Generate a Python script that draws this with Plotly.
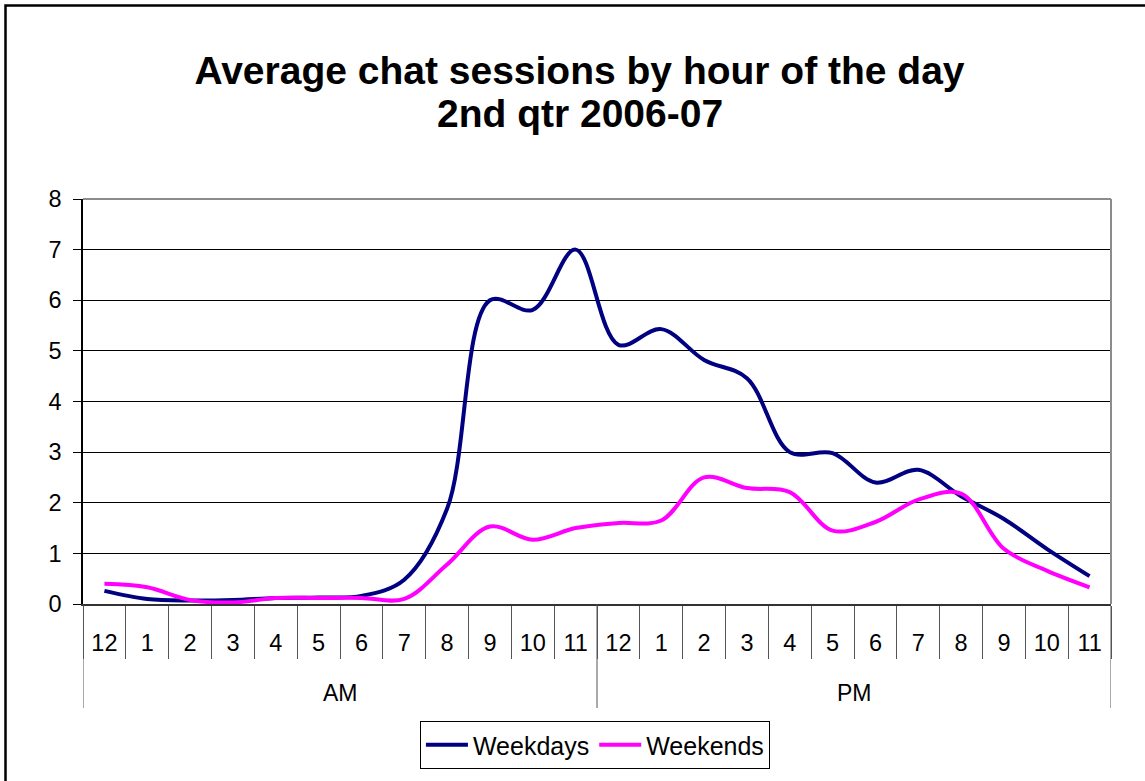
import plotly.graph_objects as go

# ---- data ----
periods = ["AM", "PM"]
hours = ["12", "1", "2", "3", "4", "5", "6", "7", "8", "9", "10", "11"]
weekdays = [0.26, 0.10, 0.07, 0.08, 0.12, 0.13, 0.16, 0.48, 1.88, 6.0, 5.81, 7.0,
            5.12, 5.43, 4.82, 4.46, 3.0, 2.98, 2.40, 2.65, 2.13, 1.68, 1.09, 0.55]
weekends = [0.40, 0.33, 0.08, 0.03, 0.12, 0.12, 0.12, 0.10, 0.78, 1.53, 1.27, 1.50,
            1.60, 1.65, 2.50, 2.29, 2.21, 1.45, 1.62, 2.06, 2.18, 1.09, 0.66, 0.33]
y_ticks = [0, 1, 2, 3, 4, 5, 6, 7, 8]
title_line1 = "Average chat sessions by hour of the day"
title_line2 = "2nd qtr 2006-07"

# build unique category keys and their display labels
cat_keys = [f"{h} {p}" for p in periods for h in hours]
cat_labels = [h for p in periods for h in hours]

FONT = "Arial, Liberation Sans, sans-serif"
W, H = 1145, 781
L, R, T, B = 83, 34, 199, 177
plot_h = H - T - B
pw = W - L - R

fig = go.Figure()
fig.add_trace(go.Scatter(x=cat_keys, y=weekdays, name="Weekdays", mode="lines",
                         line=dict(color="#000080", width=4, shape="spline", smoothing=1)))
fig.add_trace(go.Scatter(x=cat_keys, y=weekends, name="Weekends", mode="lines",
                         line=dict(color="#FF00FF", width=4, shape="spline", smoothing=1)))

n = len(hours)
shapes = []
# group dividers for AM / PM level
for g in range(len(periods) + 1):
    xb = g * n - 0.5
    shapes.append(dict(type="line", xref="x", yref="paper", x0=xb, x1=xb,
                       y0=0, y1=-(708 - 604) / plot_h,
                       line=dict(color="#555555", width=1)))
# gray plot-area border (top, right)
shapes.append(dict(type="line", xref="paper", yref="paper", x0=0, x1=1, y0=1, y1=1,
                   line=dict(color="#8c8c8c", width=2), layer="above"))
shapes.append(dict(type="line", xref="paper", yref="paper", x0=1, x1=1, y0=0, y1=1,
                   line=dict(color="#8c8c8c", width=2), layer="above"))
# outer chart frame (right and bottom edges fall outside the picture)
shapes.append(dict(type="rect", xref="paper", yref="paper",
                   x0=(5.5 - L) / pw, x1=(W + 20 - L) / pw,
                   y0=-(H + 20 - (H - B)) / plot_h, y1=((H - B) - 5.5) / plot_h,
                   line=dict(color="black", width=2.5), fillcolor="rgba(0,0,0,0)"))

annotations = []
for g, p in enumerate(periods):
    annotations.append(dict(x=g * n + (n - 1) / 2, y=-(693 - 604) / plot_h,
                            xref="x", yref="paper", text=p, showarrow=False,
                            yanchor="middle", xanchor="center",
                            font=dict(family=FONT, size=23, color="black")))
# second title line
annotations.append(dict(x=(579.5 - L) / pw, y=((H - B) - 113) / plot_h,
                        xref="paper", yref="paper", text=f"<b>{title_line2}</b>",
                        showarrow=False, yanchor="middle", xanchor="center",
                        font=dict(family=FONT, size=39, color="black")))

fig.update_layout(
    width=W, height=H,
    margin=dict(l=L, r=R, t=T, b=B),
    paper_bgcolor="white", plot_bgcolor="white",
    font=dict(family=FONT, color="black"),
    title=dict(text=f"<b>{title_line1}</b>", x=579.5 / W, xref="container", xanchor="center",
               y=1 - 70 / H, yref="container", yanchor="middle",
               font=dict(family=FONT, size=39, color="black")),
    xaxis=dict(type="category", categoryorder="array", categoryarray=cat_keys,
               tickmode="array", tickvals=cat_keys, ticktext=cat_labels,
               tickson="boundaries", ticks="outside", ticklen=53, tickcolor="#555555",
               tickwidth=1, ticklabelstandoff=17,
               tickfont=dict(family=FONT, size=23.5, color="black"),
               showgrid=False, showline=True, linecolor="#333333", linewidth=1.5,
               range=[-0.5, len(cat_keys) - 0.5], fixedrange=True),
    yaxis=dict(range=[0, 8], tickmode="array", tickvals=y_ticks,
               ticks="outside", ticklen=8, tickcolor="black", tickwidth=1,
               tickfont=dict(family=FONT, size=23.5, color="black"),
               showgrid=True, gridcolor="black", gridwidth=1,
               showline=True, linecolor="black", linewidth=1.5, zeroline=False,
               ticklabelstandoff=7),
    legend=dict(orientation="h", x=0.498, xanchor="center",
                y=-(745 - 604) / plot_h, yanchor="middle",
                bordercolor="black", borderwidth=1, bgcolor="white",
                font=dict(family=FONT, size=25, color="black"),
                itemwidth=42),
    shapes=shapes,
    annotations=annotations,
    showlegend=True,
)

fig.write_html("out.html", config={"displayModeBar": False},
               post_script="document.body.style.margin='0px';")
